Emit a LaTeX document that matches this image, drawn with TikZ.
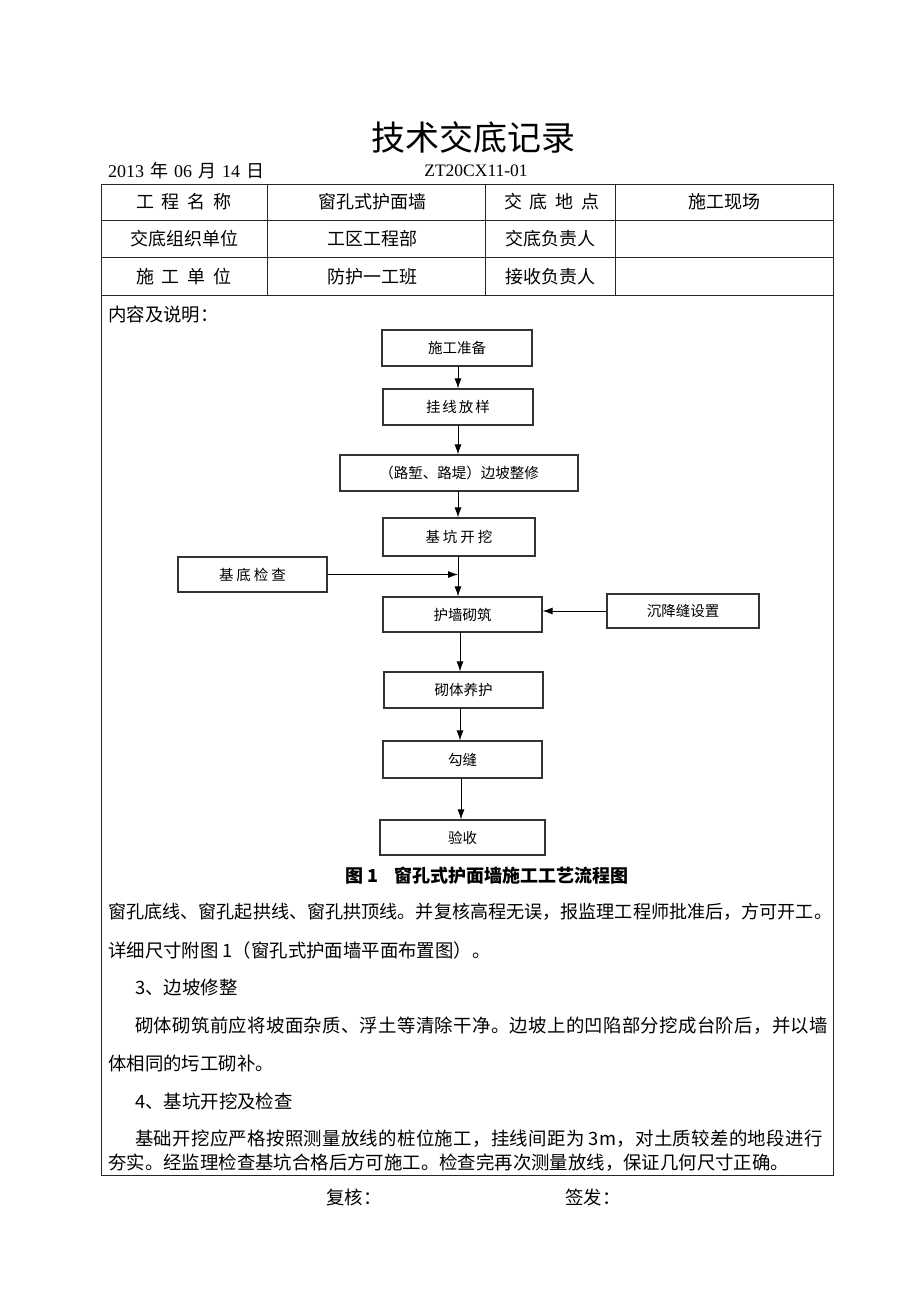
\documentclass[tikz,border=0pt]{standalone}
\usepackage{fontspec}
\setmainfont{Liberation Serif}
\newfontfamily\cjk{Noto Sans CJK SC}
\newfontfamily\cjkwide[LetterSpace=1.8]{Noto Sans CJK SC}
\usetikzlibrary{arrows.meta}
\tikzset{
  flowbox/.style={draw=black!80, line width=1.1pt, inner sep=0pt, font=\cjk\fontsize{14.5}{16}\selectfont},
  flowarrow/.style={draw=black, line width=0.9pt, -{Latex[length=10pt,width=7pt]}},
  cell/.style={inner sep=0pt, font=\cjk\fontsize{18}{20}\selectfont},
  body/.style={inner sep=0pt, anchor=west, font=\cjk\fontsize{18.4}{20}\selectfont},
  widebody/.style={inner sep=0pt, anchor=west, font=\cjkwide\fontsize{18.4}{20}\selectfont},
  grid/.style={draw=black!85, line width=0.9pt}
}
\begin{document}
\begin{tikzpicture}[x=1pt,y=-1pt]
\useasboundingbox[fill=white] (0,0) rectangle (920,1302);
% title
\node[inner sep=0pt, font=\cjk\fontsize{34}{36}\selectfont] (title) at (473,137) {技术交底记录};
\node[inner sep=0pt, anchor=west, font=\fontsize{18}{20}\selectfont] (date) at (108,171) {2013\hspace{6pt}{\cjk 年}\hspace{6pt}06\hspace{6pt}{\cjk 月}\hspace{6pt}14\hspace{6pt}{\cjk 日}};
\node[inner sep=0pt, font=\fontsize{17.5}{20}\selectfont] (code) at (476,171) {ZT20CX11-01};
% table
\draw[grid] (101,184) rectangle (833,1175);
\draw[grid] (101,220) -- (833,220);
\draw[grid] (101,257) -- (833,257);
\draw[grid] (101,295) -- (833,295);
\draw[grid] (267,184) -- (267,295);
\draw[grid] (485,184) -- (485,295);
\draw[grid] (615,184) -- (615,295);
\node[cell] (c11) at (184,202) {工\hspace{8pt}程\hspace{8pt}名\hspace{8pt}称};
\node[cell] (c12) at (372,202) {窗孔式护面墙};
\node[cell] (c13) at (552,202) {交\hspace{8pt}底\hspace{8pt}地\hspace{8pt}点};
\node[cell] (c14) at (724,202) {施工现场};
\node[cell] (c21) at (184,239) {交底组织单位};
\node[cell] (c22) at (372,239) {工区工程部};
\node[cell] (c23) at (550,239) {交底负责人};
\node[cell] (c31) at (184,277) {施\hspace{8pt}工\hspace{8pt}单\hspace{8pt}位};
\node[cell] (c32) at (372,277) {防护一工班};
\node[cell] (c33) at (550,277) {接收负责人};
\node[body] (intro) at (108,315) {内容及说明：};
% flowchart
\node[flowbox, minimum width=150pt, minimum height=36pt] (p1) at (457,348) {施工准备};
\node[flowbox, minimum width=150pt, minimum height=36pt] (p2) at (458,407) {挂\hspace{2pt}线\hspace{2pt}放\hspace{2pt}样};
\node[flowbox, minimum width=238pt, minimum height=36pt] (p3) at (459,473) {（路堑、路堤）边坡整修};
\node[flowbox, minimum width=152pt, minimum height=38pt] (p4) at (459,537) {基\hspace{3pt}坑\hspace{3pt}开\hspace{3pt}挖};
\node[flowbox, minimum width=149pt, minimum height=35pt] (p5) at (252.5,574.5) {基\hspace{3pt}底\hspace{3pt}检\hspace{3pt}查};
\node[flowbox, minimum width=159pt, minimum height=35pt] (p6) at (462.5,614.5) {护墙砌筑};
\node[flowbox, minimum width=152pt, minimum height=34pt] (p7) at (683,611) {沉降缝设置};
\node[flowbox, minimum width=159pt, minimum height=36pt] (p8) at (463.5,690) {砌体养护};
\node[flowbox, minimum width=159pt, minimum height=37pt] (p9) at (462.5,759.5) {勾缝};
\node[flowbox, minimum width=165pt, minimum height=35pt] (p10) at (462.5,837.5) {验收};
\coordinate (a1) at (458,366);
\coordinate (a2) at (458,425);
\coordinate (a3) at (458,491);
\coordinate (a4) at (458,556);
\draw[flowarrow] (a1) -- (a1 |- p2.north);
\draw[flowarrow] (a2) -- (a2 |- p3.north);
\draw[flowarrow] (a3) -- (a3 |- p4.north);
\draw[flowarrow] (a4) -- (a4 |- p6.north);
\coordinate (m) at (a4 |- p5.east);
\draw[flowarrow] (p5.east) -- (m);
\draw[flowarrow] (p7.west) -- (p7.west -| p6.east);
\coordinate (a6) at (460,632);
\coordinate (a8) at (460,708);
\coordinate (a9) at (461,778);
\draw[flowarrow] (a6) -- (a6 |- p8.north);
\draw[flowarrow] (a8) -- (a8 |- p9.north);
\draw[flowarrow] (a9) -- (a9 |- p10.north);
\node[inner sep=0pt, font=\cjk\bfseries\fontsize{18}{20}\selectfont] (cap) at (487,876) {图 1\hspace{16pt}窗孔式护面墙施工工艺流程图};
% body text
\node[body, font=\cjk\fontsize{18.1}{20}\selectfont] (l1) at (108,912) {窗孔底线、窗孔起拱线、窗孔拱顶线。并复核高程无误，报监理工程师批准后，方可开工。};
\node[body] (l2) at (108,950) {详细尺寸附图 1（窗孔式护面墙平面布置图）。};
\node[body] (l3) at (135,988) {3、边坡修整};
\node[widebody] (l4) at (135,1026) {砌体砌筑前应将坡面杂质、浮土等清除干净。边坡上的凹陷部分挖成台阶后，并以墙};
\node[body] (l5) at (108,1063) {体相同的圬工砌补。};
\node[body] (l6) at (135,1101) {4、基坑开挖及检查};
\node[widebody] (l7) at (135,1139) {基础开挖应严格按照测量放线的桩位施工，挂线间距为 3m，对土质较差的地段进行};
\node[body] (l8) at (108,1163) {夯实。经监理检查基坑合格后方可施工。检查完再次测量放线，保证几何尺寸正确。};
% footer
\node[body] (f1) at (326,1197) {复核：};
\node[body] (f2) at (565,1197) {签发：};
\end{tikzpicture}
\end{document}
